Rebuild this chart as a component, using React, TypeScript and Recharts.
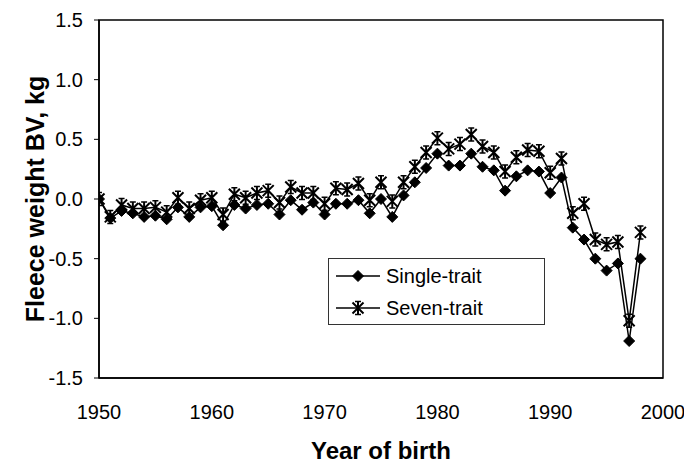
import React from 'react';
import {
  LineChart,
  Line,
  XAxis,
  YAxis,
  ReferenceArea,
} from 'recharts';

const years: number[] = [
  1950, 1951, 1952, 1953, 1954, 1955, 1956, 1957, 1958, 1959,
  1960, 1961, 1962, 1963, 1964, 1965, 1966, 1967, 1968, 1969,
  1970, 1971, 1972, 1973, 1974, 1975, 1976, 1977, 1978, 1979,
  1980, 1981, 1982, 1983, 1984, 1985, 1986, 1987, 1988, 1989,
  1990, 1991, 1992, 1993, 1994, 1995, 1996, 1997, 1998,
];

const singleTrait: number[] = [
  0, -0.16, -0.1, -0.12, -0.15, -0.14, -0.17, -0.07, -0.15, -0.07,
  -0.06, -0.22, -0.05, -0.08, -0.05, -0.04, -0.13, -0.01, -0.09, -0.03,
  -0.13, -0.04, -0.04, -0.01, -0.12, 0.0, -0.15, 0.03, 0.14, 0.26,
  0.38, 0.28, 0.28, 0.38, 0.27, 0.24, 0.07, 0.19, 0.24, 0.23,
  0.05, 0.18, -0.24, -0.34, -0.5, -0.6, -0.54, -1.19, -0.5,
];

const sevenTrait: number[] = [
  0, -0.15, -0.05, -0.08, -0.08, -0.07, -0.11, 0.01, -0.08, -0.01,
  0.01, -0.13, 0.04, 0.01, 0.05, 0.07, -0.03, 0.1, 0.05, 0.05,
  -0.04, 0.09, 0.08, 0.13, -0.01, 0.14, -0.02, 0.14, 0.27, 0.39,
  0.51, 0.42, 0.46, 0.54, 0.44, 0.39, 0.23, 0.35, 0.41, 0.4,
  0.22, 0.34, -0.12, -0.04, -0.34, -0.38, -0.36, -1.02, -0.28,
];

const xTicks: number[] = [1950, 1960, 1970, 1980, 1990, 2000];
const yTicks: number[] = [-1.5, -1.0, -0.5, 0.0, 0.5, 1.0, 1.5];

const seriesNames = ['Single-trait', 'Seven-trait'];

const data = years.map((y, i) => ({
  year: y,
  single: singleTrait[i],
  seven: sevenTrait[i],
}));

const FONT = '"Liberation Sans", Arial, Helvetica, sans-serif';

const Diamond = (props: any) => {
  const { cx, cy } = props;
  if (cx == null || cy == null) return null;
  const r = 5.5;
  return (
    <path
      d={`M${cx},${cy - r}L${cx + r},${cy}L${cx},${cy + r}L${cx - r},${cy}Z`}
      fill="#000"
      stroke="#000"
      strokeWidth={1}
    />
  );
};

const Star = (props: any) => {
  const { cx, cy } = props;
  if (cx == null || cy == null) return null;
  const r = 5.5;
  return (
    <g stroke="#000" strokeWidth={2} fill="none">
      <path d={`M${cx - r},${cy - r}L${cx + r},${cy + r}M${cx - r},${cy + r}L${cx + r},${cy - r}M${cx},${cy - r - 1}L${cx},${cy + r + 1}`} />
      <path d={`M${cx - 3},${cy - r - 1}L${cx + 3},${cy - r - 1}M${cx - 3},${cy + r + 1}L${cx + 3},${cy + r + 1}`} strokeWidth={1.5} />
    </g>
  );
};

const LegendBox = () => (
  <div
    style={{
      position: 'absolute',
      left: 328,
      top: 258,
      border: '1.5px solid #333',
      width: 217,
      height: 67,
      boxSizing: 'border-box',
      background: '#fff',
      fontFamily: FONT,
      fontSize: 20,
      color: '#000',
    }}
  >
    {seriesNames.map((name, i) => (
      <div key={name} style={{ display: 'flex', alignItems: 'center', height: 32, marginTop: i === 0 ? 1 : 0 }}>
        <svg width={48} height={20} style={{ marginLeft: 5 }}>
          <line x1={2} y1={10} x2={46} y2={10} stroke="#000" strokeWidth={1.5} />
          {i === 0 ? <Diamond cx={24} cy={10} /> : <Star cx={24} cy={10} />}
        </svg>
        <span style={{ marginLeft: 4 }}>{name}</span>
      </div>
    ))}
  </div>
);

const YLabel = (props: any) => {
  const { viewBox } = props;
  const x = viewBox.x + 35;
  const y = viewBox.y + viewBox.height / 2;
  return (
    <text
      x={x}
      y={y}
      transform={`rotate(-90 ${x} ${y})`}
      textAnchor="middle"
      dominantBaseline="central"
      fontFamily={FONT}
      fontWeight="bold"
      fontSize={25}
      fill="#000"
    >
      Fleece weight BV, kg
    </text>
  );
};

const XLabel = (props: any) => {
  const { viewBox } = props;
  const x = viewBox.x + viewBox.width / 2;
  const y = viewBox.y + 72;
  return (
    <text
      x={x}
      y={y}
      textAnchor="middle"
      dominantBaseline="central"
      fontFamily={FONT}
      fontWeight="bold"
      fontSize={24}
      fill="#000"
    >
      Year of birth
    </text>
  );
};

export default function App() {
  return (
    <div style={{ position: 'absolute', left: 0, top: 0, width: 684, height: 465, background: '#fff' }}>
      <LineChart
        width={684}
        height={465}
        data={data}
        margin={{ top: 20, right: 21, bottom: 0, left: 0 }}
      >
        <XAxis
          dataKey="year"
          type="number"
          domain={[1950, 2000]}
          ticks={xTicks}
          height={87}
          axisLine={{ stroke: '#000', strokeWidth: 1.5 }}
          tickLine={false}
          tickMargin={21}
          tick={{ fill: '#000', fontSize: 20, fontFamily: FONT }}
          label={<XLabel />}
          allowDataOverflow
        />
        <YAxis
          type="number"
          domain={[-1.5, 1.5]}
          ticks={yTicks}
          width={99}
          axisLine={{ stroke: '#000', strokeWidth: 1.5 }}
          tickLine={{ stroke: '#000', strokeWidth: 1 }}
          tickSize={5}
          tickMargin={11}
          tickFormatter={(v: number) => v.toFixed(1)}
          tick={{ fill: '#000', fontSize: 20, fontFamily: FONT }}
          label={<YLabel />}
          allowDataOverflow
        />
        <ReferenceArea
          x1={1950}
          x2={2000}
          y1={-1.5}
          y2={1.5}
          fill="none"
          stroke="#000"
          strokeWidth={1.5}
          fillOpacity={0}
        />
        <Line
          type="linear"
          dataKey="single"
          name={seriesNames[0]}
          stroke="#000"
          strokeWidth={1.5}
          dot={<Diamond />}
          activeDot={false}
          isAnimationActive={false}
        />
        <Line
          type="linear"
          dataKey="seven"
          name={seriesNames[1]}
          stroke="#000"
          strokeWidth={1.5}
          dot={<Star />}
          activeDot={false}
          isAnimationActive={false}
        />
      </LineChart>
      <LegendBox />
    </div>
  );
}
